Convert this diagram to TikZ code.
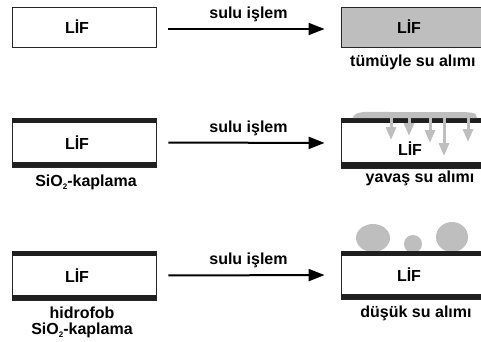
\documentclass[tikz,border=0pt]{standalone}
\usepackage{fontspec}
\setmainfont{Liberation Sans}
\usetikzlibrary{arrows.meta}
\definecolor{lgray}{HTML}{BEBEBE}
\newcommand{\subtwo}{\raisebox{-3.5pt}{\fontsize{8}{8}\selectfont 2}}
\begin{document}
\begin{tikzpicture}[x=1pt,y=-1pt,
  every node/.style={font=\fontsize{16}{18}\selectfont\bfseries},
  fiber/.style={draw=black!85,line width=0.9pt,fill=white,minimum width=144pt,inner sep=0pt},
  band/.style={fill=black!88},
  proc/.style={line width=2pt,-{Triangle[length=16pt,width=12pt]},shorten <=12pt,shorten >=16pt},
  drop/.style={line width=3pt,lgray,-{Triangle[length=13pt,width=10pt]}},
  lbl/.style={inner sep=0pt}]
\useasboundingbox (0,0) rectangle (481,342);
% row 1
\node[fiber,minimum height=40pt] (a1) at (84,27) {\hspace*{-14pt}LİF};
\node[fiber,fill=lgray,minimum height=40pt,minimum width=142pt] (b1) at (412,27) {\hspace*{-6pt}LİF};
\draw[proc] ([yshift=-2pt]a1.east) -- node[above=6pt,lbl] (s1) {sulu işlem} ([yshift=-2pt]b1.west);
\node[lbl,anchor=west] (t1) at (350,62) {tümüyle su alımı};
% row 2
\node[fiber,minimum height=49pt] (a2) at (84,142.5) {\hspace*{-14pt}LİF};
\fill[band] (a2.north west) rectangle ([yshift=-5pt]a2.north east);
\fill[band] (a2.south west) rectangle ([yshift=5pt]a2.south east);
\node[lbl] (t2) at (86,182) {SiO\subtwo-kaplama};
\node[fiber,minimum height=50pt,minimum width=142pt] (b2) at (412,143) {};
\fill[band] (b2.north west) rectangle ([yshift=-5pt]b2.north east);
\fill[band] (b2.south west) rectangle ([yshift=6pt]b2.south east);
\fill[lgray] (353,118) .. controls (354,110) and (370,112) .. (390,112) -- (450,112) .. controls (472,112) and (477,112) .. (477,118) -- cycle;
\draw[drop] (391,114) -- (391,140);
\draw[drop] (409,114) -- (409,136);
\draw[drop] (430,114) -- (430,143);
\draw[drop] (444,114) -- (444,156);
\draw[drop] (468,114) -- (468,142);
\node[lbl] (l2) at (410,149) {LİF};
\draw[proc] (a2.east) -- node[above=6pt,lbl] (s2) {sulu işlem} (b2.west);
\node[lbl] (u2) at (420,178) {yavaş su alımı};
% row 3
\node[fiber,minimum height=49pt] (a3) at (84,275.5) {\hspace*{-14pt}LİF};
\fill[band] (a3.north west) rectangle ([yshift=-5pt]a3.north east);
\fill[band] (a3.south west) rectangle ([yshift=5pt]a3.south east);
\node[lbl] (h3) at (82,313) {hidrofob};
\node[lbl] (t3) at (82,330) {SiO\subtwo-kaplama};
\fill[lgray] (373,238) ellipse [x radius=17pt,y radius=14pt];
\fill[lgray] (413,244) circle [radius=9pt];
\fill[lgray] (452,237) ellipse [x radius=16pt,y radius=15pt];
\node[fiber,minimum height=48pt,minimum width=142pt] (b3) at (412,275) {\hspace*{-6pt}LİF};
\fill[band] (b3.north west) rectangle ([yshift=-5pt]b3.north east);
\fill[band] (b3.south west) rectangle ([yshift=5pt]b3.south east);
\draw[proc] (a3.east) -- node[above=6pt,lbl] (s3) {sulu işlem} (b3.west);
\node[lbl] (u3) at (416,313) {düşük su alımı};
\end{tikzpicture}
\end{document}
